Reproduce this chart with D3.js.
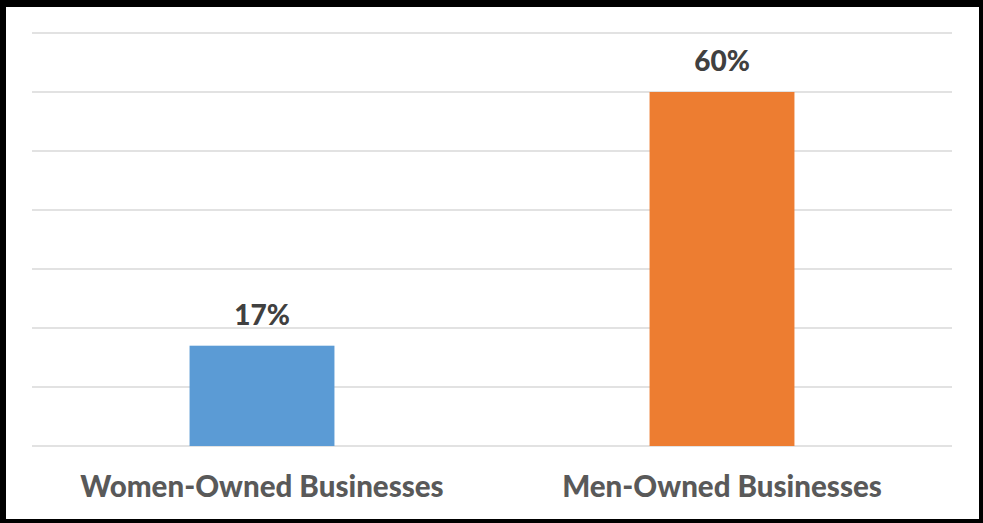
<!DOCTYPE html>
<html>
<head>
<meta charset="utf-8">
<script src="https://cdn.jsdelivr.net/npm/d3@7"></script>
<style>
  html, body { margin: 0; padding: 0; background: #fff; }
  svg { display: block; }
</style>
</head>
<body>
<svg id="chart" width="983" height="523"></svg>
<script>
// Share of businesses by owner gender
const categories = ["Women-Owned Businesses", "Men-Owned Businesses"];
const values = [17, 60];
const valueLabels = ["17%", "60%"];
const colors = ["#5b9bd5", "#ed7d31"];
const gridTicks = [0, 10, 20, 30, 40, 50, 60, 70];

const W = 983, H = 523;
const svg = d3.select("#chart");
const font = "Lato, 'Open Sans', sans-serif";

const plot = { left: 32, right: 952, top: 33, bottom: 446 };

const x = d3.scaleBand()
  .domain(categories)
  .range([plot.left, plot.right])
  .paddingInner(0.685)
  .paddingOuter(0.3425);

const y = d3.scaleLinear()
  .domain([0, 70])
  .range([plot.bottom, plot.top]);

// gridlines
svg.append("g")
  .selectAll("line")
  .data(gridTicks)
  .join("line")
  .attr("x1", plot.left)
  .attr("x2", plot.right)
  .attr("y1", d => y(d))
  .attr("y2", d => y(d))
  .attr("stroke", "#d9d9d9")
  .attr("stroke-width", 1.5);

// bars
svg.append("g")
  .selectAll("rect")
  .data(values)
  .join("rect")
  .attr("x", (d, i) => x(categories[i]))
  .attr("width", x.bandwidth())
  .attr("y", d => y(d))
  .attr("height", d => y(0) - y(d))
  .attr("fill", (d, i) => colors[i]);

// value labels
svg.append("g")
  .selectAll("text")
  .data(values)
  .join("text")
  .attr("x", (d, i) => x(categories[i]) + x.bandwidth() / 2)
  .attr("y", d => y(d) - 21)
  .attr("text-anchor", "middle")
  .attr("font-family", font)
  .attr("font-weight", 900)
  .attr("font-size", 28)
  .attr("fill", "#404040")
  .text((d, i) => valueLabels[i]);

// category labels
svg.append("g")
  .selectAll("text")
  .data(categories)
  .join("text")
  .attr("x", d => x(d) + x.bandwidth() / 2)
  .attr("y", 497)
  .attr("text-anchor", "middle")
  .attr("font-family", font)
  .attr("font-weight", 900)
  .attr("font-size", 29.5)
  .attr("fill", "#595959")
  .text(d => d);

// frame
const frame = svg.append("g").attr("fill", "#000");
frame.append("rect").attr("x", 0).attr("y", 0).attr("width", W).attr("height", 7);
frame.append("rect").attr("x", 0).attr("y", 0).attr("width", 6).attr("height", H);
frame.append("rect").attr("x", W - 4).attr("y", 0).attr("width", 4).attr("height", H);
frame.append("rect").attr("x", 0).attr("y", H - 4).attr("width", W).attr("height", 4);
</script>
</body>
</html>
